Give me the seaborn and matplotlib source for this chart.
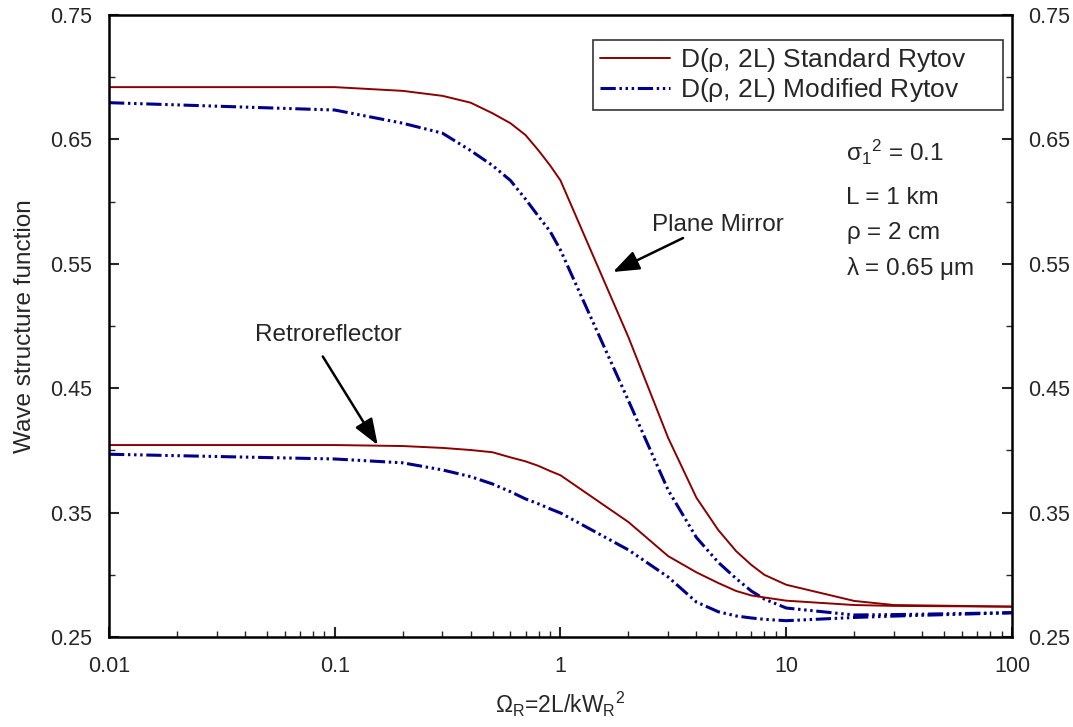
import numpy as np
import pandas as pd
import matplotlib
matplotlib.use("Agg")
import matplotlib.pyplot as plt
import seaborn as sns
from matplotlib.ticker import FixedLocator, NullFormatter, LogLocator, FixedFormatter

# Normalized receiver parameter Omega_R
omega = [0.01, 0.1, 0.2, 0.3, 0.4, 0.5, 0.6, 0.7, 0.8, 0.9, 1,
         2, 3, 4, 5, 6, 7, 8, 10, 20, 30, 100]

# Plane mirror, standard and modified Rytov theory
mirror_std = [0.692, 0.692, 0.689, 0.685, 0.6795, 0.671, 0.663, 0.6535, 0.641, 0.629, 0.617,
              0.491, 0.410, 0.362, 0.336, 0.319, 0.308, 0.300, 0.292, 0.279, 0.2757, 0.2744]
mirror_mod = [0.6795, 0.6736, 0.663, 0.655, 0.641, 0.629, 0.617, 0.602, 0.588, 0.576, 0.561,
              0.440, 0.368, 0.330, 0.310, 0.297, 0.287, 0.2805, 0.2733, 0.2677, 0.268, 0.2695]

# Retroreflector, standard and modified Rytov theory
retro_std = [0.4043, 0.4043, 0.4035, 0.402, 0.4003, 0.3985, 0.3944, 0.3912, 0.3875, 0.3834, 0.380,
             0.3424, 0.315, 0.302, 0.2934, 0.287, 0.2834, 0.2818, 0.2792, 0.2757, 0.2750, 0.2744]
retro_mod = [0.3969, 0.3931, 0.390, 0.3843, 0.3789, 0.373, 0.3668, 0.361, 0.357, 0.353, 0.3497,
             0.320, 0.2982, 0.2781, 0.2703, 0.2669, 0.2653, 0.2642, 0.2631, 0.2657, 0.2668, 0.2695]

y_ticks = [0.25, 0.35, 0.45, 0.55, 0.65, 0.75]
y_tick_labels = ["0.25", "0.35", "0.45", "0.55", "0.65", "0.75"]
x_ticks = [0.01, 0.1, 1, 10, 100]
x_tick_labels = ["0.01", "0.1", "1", "10", "100"]

sns.set_style("ticks")
plt.rcParams["font.family"] = ["Liberation Sans", "DejaVu Sans"]
plt.rcParams["mathtext.default"] = "regular"

RED = "#8b0000"
NAVY = "#00008b"
dash_mod = (0, (5, 1.2, 0.8, 1.2, 0.8, 1.2, 0.8, 1.2))

fig = plt.figure(figsize=(10.73, 7.27), dpi=100)
ax = fig.add_axes([0.1016, 0.1238, 0.8415, 0.8556])

df = pd.DataFrame({"omega": omega, "ms": mirror_std, "mm": mirror_mod,
                   "rs": retro_std, "rm": retro_mod})

sns.lineplot(data=df, x="omega", y="ms", ax=ax, color=RED, lw=1.4,
             label=r"D($\rho$, 2L) Standard Rytov")
sns.lineplot(data=df, x="omega", y="mm", ax=ax, color=NAVY, lw=2.2,
             linestyle=dash_mod, label=r"D($\rho$, 2L) Modified Rytov")
sns.lineplot(data=df, x="omega", y="rs", ax=ax, color=RED, lw=1.4)
sns.lineplot(data=df, x="omega", y="rm", ax=ax, color=NAVY, lw=2.2, linestyle=dash_mod)

ax.set_xscale("log")
ax.set_xlim(0.01, 100)
ax.set_ylim(0.25, 0.75)

ax.xaxis.set_major_locator(FixedLocator(x_ticks))
ax.xaxis.set_major_formatter(FixedFormatter(x_tick_labels))
ax.xaxis.set_minor_locator(LogLocator(base=10, subs=np.arange(2, 10)))
ax.xaxis.set_minor_formatter(NullFormatter())
ax.yaxis.set_major_locator(FixedLocator(y_ticks))
ax.yaxis.set_major_formatter(FixedFormatter(y_tick_labels))
ax.yaxis.set_minor_locator(FixedLocator([0.30, 0.40, 0.50, 0.60, 0.70]))

ax.tick_params(axis="both", which="major", direction="in", length=7, width=1.5,
               labelsize=15.5)
ax.tick_params(axis="x", which="major", pad=14)
ax.tick_params(axis="y", which="major", pad=12)
ax.tick_params(axis="both", which="minor", direction="in", length=4, width=1)
ax.tick_params(axis="y", which="both", left=True, right=True, labelright=True)
ax.tick_params(axis="x", which="both", bottom=True, top=False)

for sp in ax.spines.values():
    sp.set_visible(True)
    sp.set_linewidth(1.8)
    sp.set_color("black")

ax.set_xlabel(r"$\Omega_R$=2L/kW$_R$$^2$", fontsize=16.5, labelpad=9)
ax.set_ylabel("Wave structure function", fontsize=17.5, labelpad=10)

leg = ax.legend(loc="upper left", bbox_to_anchor=(0.536, 0.5, 0.454, 0.46),
                mode="expand", fontsize=19, frameon=True, fancybox=False,
                edgecolor="black", handlelength=2.65, borderpad=0.25,
                labelspacing=0.05, handletextpad=0.4, borderaxespad=0)
leg.get_frame().set_linewidth(1.2)

# Turbulence and geometry parameters
param_kw = dict(fontsize=17.5, ha="left", va="center")
ax.text(18.4, 0.6391, r"$\sigma_1$$^2$ = 0.1", **param_kw)
ax.text(18.4, 0.6029, "L = 1 km", **param_kw)
ax.text(18.4, 0.5748, r"$\rho$ = 2 cm", **param_kw)
ax.text(18.4, 0.5466, r"$\lambda$ = 0.65 $\mu$m", **param_kw)

arrow = dict(arrowstyle="-|>,head_length=1.6,head_width=0.6", color="black",
             lw=1.8, shrinkA=0, shrinkB=0)
ax.annotate("", xy=(1.708, 0.5434), xytext=(3.49, 0.5707), arrowprops=arrow)
ax.text(5.0, 0.5812, "Plane Mirror", fontsize=17.5, ha="center", va="center")
ax.annotate("", xy=(0.155, 0.4043), xytext=(0.0885, 0.4755), arrowprops=arrow)
ax.text(0.0933, 0.4925, "Retroreflector", fontsize=17.5, ha="center", va="center")

fig.savefig("out.png", dpi=100, facecolor="white")
